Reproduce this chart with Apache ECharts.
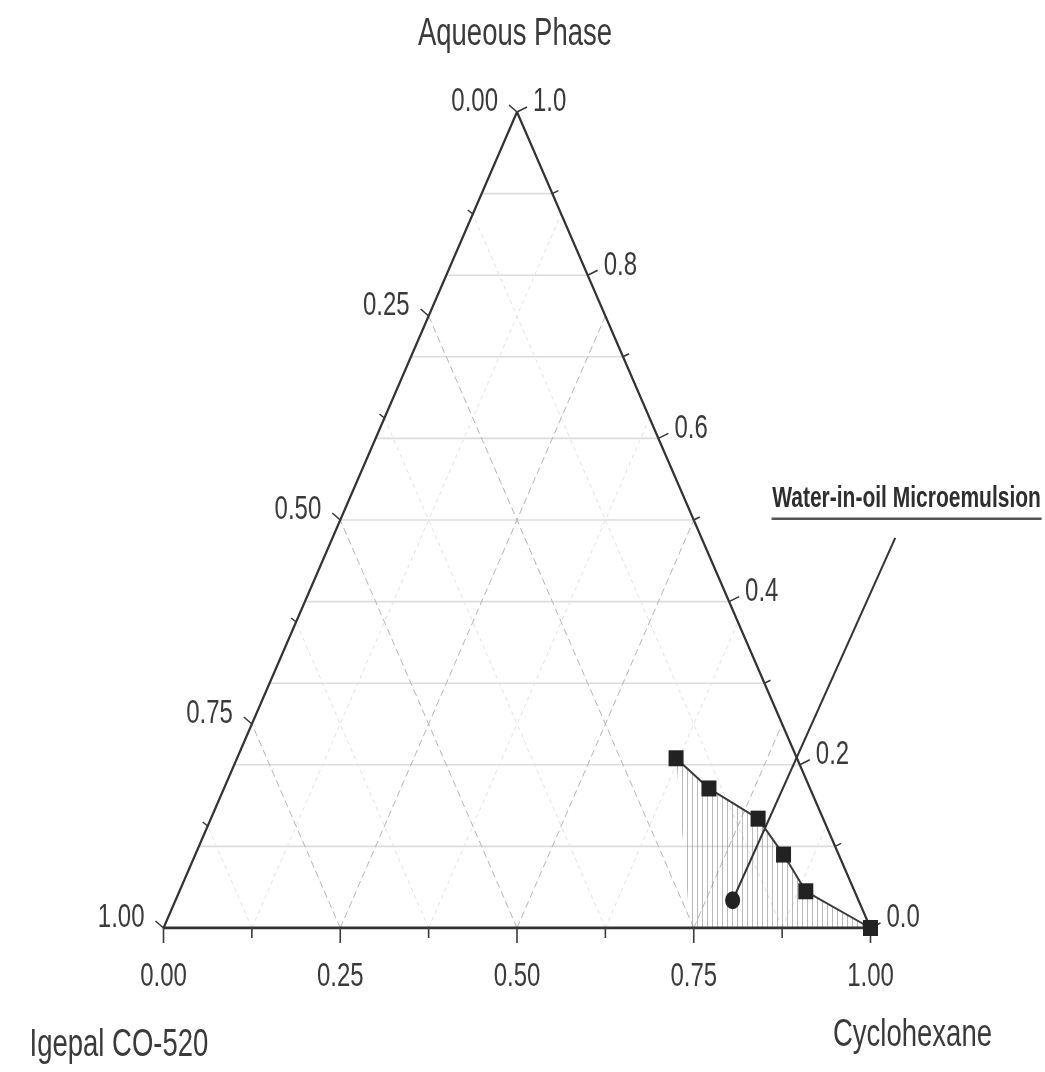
<!DOCTYPE html>
<html><head><meta charset="utf-8">
<script src="https://cdn.jsdelivr.net/npm/echarts@6/dist/echarts.min.js"></script>
<style>html,body{margin:0;padding:0;background:#fff}#c{width:1045px;height:1072px}</style>
</head><body><div id="c"></div>
<script>
// ---------- data ----------
const titleTop = 'Aqueous Phase';
const titleLeft = 'Igepal CO-520';
const titleRight = 'Cyclohexane';
const annotText = 'Water-in-oil Microemulsion';

// bottom axis: Cyclohexane fraction; left axis: Igepal fraction; right axis: Aqueous fraction
const cycTicks = [0, 0.25, 0.5, 0.75, 1.0];
const cycTickLabels = ['0.00', '0.25', '0.50', '0.75', '1.00'];
const cycMinor = [0.125, 0.375, 0.625, 0.875];
const igTicks = [0, 0.25, 0.5, 0.75, 1.0];
const igTickLabels = ['0.00', '0.25', '0.50', '0.75', '1.00'];
const igMinor = [0.125, 0.375, 0.625, 0.875];
const aqTicks = [0, 0.2, 0.4, 0.6, 0.8, 1.0];
const aqTickLabels = ['0.0', '0.2', '0.4', '0.6', '0.8', '1.0'];
const aqMinor = [0.1, 0.3, 0.5, 0.7, 0.9];
const aqGrid = [0.1, 0.2, 0.3, 0.4, 0.5, 0.6, 0.7, 0.8, 0.9];

// boundary of the water-in-oil microemulsion region (squares)
const boundaryAqueous = [0.208, 0.171, 0.134, 0.090, 0.045, 0.0];
const boundaryCyclohexane = [0.621, 0.686, 0.774, 0.832, 0.886, 1.0];
const boundaryIgepal = [0.171, 0.143, 0.092, 0.078, 0.069, 0.0];
// lower-left corner of the shaded region on the base
const regionBaseAqueous = [0.0];
const regionBaseCyclohexane = [0.745];
// highlighted composition (circle)
const pointAqueous = [0.034];
const pointCyclohexane = [0.788];
const pointIgepal = [0.178];

// ---------- helpers ----------
const tern = (aq, cyc) => [cyc + aq / 2, aq];
const S = 1.42; // vertical stretch of the text
const FONT = '"Liberation Sans", Arial, sans-serif';
const TXT = '#3a3a3a';

function text(x, y, str, size, align, weight, fill) {
  return { type: 'text', x: x, y: y, scaleY: S,
    style: { text: str, fill: fill || TXT, fontSize: size, fontFamily: FONT, fontWeight: weight || 'normal',
             align: align, verticalAlign: 'middle' } };
}
function seg(p, q, style) {
  return { type: 'line', shape: { x1: p[0], y1: p[1], x2: q[0], y2: q[1] }, style: style };
}
function customSeries(values, render, z) {
  return { type: 'custom', coordinateSystem: 'cartesian2d', clip: false, silent: true, z: z || 2,
    data: values.map(v => [v, 0]),
    renderItem: function (params, api) { return render(api.value(0), params.dataIndex, api); } };
}

const hatch = document.createElement('canvas');
hatch.width = 5; hatch.height = 8;
(function () { const g = hatch.getContext('2d'); g.fillStyle = 'rgba(140,140,140,0.6)'; g.fillRect(2, 0, 1, 8); })();

const gridStyle = { stroke: '#dcdcdc', lineWidth: 1.6 };
const dashStyle = { stroke: '#b5b5b5', lineWidth: 1, lineDash: [7, 4] };
const faintStyle = { stroke: '#e2e2e2', lineWidth: 1, lineDash: [4, 4] };
const tickStyle = { stroke: '#3a3a3a', lineWidth: 1.6 };

const series = [];
// horizontal grid lines (constant aqueous)
series.push(customSeries(aqGrid, (a, i, api) => seg(api.coord(tern(a, 0)), api.coord(tern(a, 1 - a)), gridStyle), 1));
// dashed lines at major cyclohexane / igepal values
series.push(customSeries(cycTicks.slice(1, -1), (c, i, api) => ({ type: 'group', children: [
  seg(api.coord(tern(0, c)), api.coord(tern(1 - c, c)), dashStyle),
  seg(api.coord(tern(0, 1 - c)), api.coord(tern(1 - c, 0)), dashStyle) ] }), 1));
series.push(customSeries(cycMinor, (c, i, api) => ({ type: 'group', children: [
  seg(api.coord(tern(0, c)), api.coord(tern(1 - c, c)), faintStyle),
  seg(api.coord(tern(0, 1 - c)), api.coord(tern(1 - c, 0)), faintStyle) ] }), 1));

// shaded region
const regionPts = boundaryAqueous.map((a, i) => tern(a, boundaryCyclohexane[i]))
  .concat(regionBaseAqueous.map((a, i) => tern(a, regionBaseCyclohexane[i])));
series.push({ type: 'custom', coordinateSystem: 'cartesian2d', clip: false, silent: true, z: 2,
  data: [[0, 0]],
  renderItem: function (params, api) {
    return { type: 'polygon', shape: { points: regionPts.map(p => api.coord(p)) },
      style: { fill: { image: hatch, repeat: 'repeat' }, stroke: null } };
  } });

// triangle edges
series.push({ type: 'line', silent: true, z: 3, symbol: 'none', animation: false,
  lineStyle: { color: '#333', width: 2.2 },
  data: [tern(0, 0), tern(1, 0), tern(0, 1)] });
series.push({ type: 'line', silent: true, z: 3, symbol: 'none', animation: false,
  lineStyle: { color: '#333', width: 3 },
  data: [tern(0, 0), tern(0, 1)] });

// bottom ticks + labels (cyclohexane)
series.push(customSeries(cycTicks, (c, i, api) => { const p = api.coord(tern(0, c));
  return { type: 'group', children: [ seg(p, [p[0], p[1] + 15], tickStyle),
    text(p[0], p[1] + 49, cycTickLabels[i], 24, 'center') ] }; }, 4));
series.push(customSeries(cycMinor, (c, i, api) => { const p = api.coord(tern(0, c));
  return seg(p, [p[0], p[1] + 10], tickStyle); }, 4));
// left ticks + labels (igepal)
series.push(customSeries(igTicks, (g, i, api) => { const p = api.coord(tern(1 - g, 0));
  return { type: 'group', children: [ seg(p, [p[0] - 8, p[1] - 7], tickStyle),
    text(p[0] - 19, p[1] - 10, igTickLabels[i], 24, 'right') ] }; }, 4));
series.push(customSeries(igMinor, (g, i, api) => { const p = api.coord(tern(1 - g, 0));
  return seg(p, [p[0] - 5, p[1] - 4], tickStyle); }, 4));
// right ticks + labels (aqueous)
series.push(customSeries(aqTicks, (a, i, api) => { const p = api.coord(tern(a, 1 - a));
  return { type: 'group', children: [ seg(p, [p[0] + 10, p[1] - 5], tickStyle),
    text(p[0] + 16, p[1] - 10, aqTickLabels[i], 24, 'left') ] }; }, 4));
series.push(customSeries(aqMinor, (a, i, api) => { const p = api.coord(tern(a, 1 - a));
  return seg(p, [p[0] + 6, p[1] - 3], tickStyle); }, 4));

// axis titles
series.push({ type: 'custom', coordinateSystem: 'cartesian2d', clip: false, silent: true, z: 4,
  data: [[0, 0]],
  renderItem: function (params, api) {
    const top = api.coord(tern(1, 0)), left = api.coord(tern(0, 0)), right = api.coord(tern(0, 1));
    return { type: 'group', children: [
      text(top[0] - 2, top[1] - 78, titleTop, 27.5, 'center'),
      text(left[0] - 134, left[1] + 117, titleLeft, 27.5, 'left'),
      text(right[0] + 42, right[1] + 107, titleRight, 27.5, 'center') ] };
  } });

// annotation line + label
const annotAnchor = [1.035, 0.478];
const annotLabelPos = [1.051, 0.526];
series.push({ type: 'custom', coordinateSystem: 'cartesian2d', clip: false, silent: true, z: 5,
  data: [[0, 0]],
  renderItem: function (params, api) {
    const a = api.coord(annotAnchor), pt = api.coord(tern(pointAqueous[0], pointCyclohexane[0]));
    const l = api.coord(annotLabelPos);
    return { type: 'group', children: [
      seg(a, pt, { stroke: '#333', lineWidth: 2 }),
      text(l[0], l[1], annotText, 21, 'center', 'bold', '#2e2e2e'),
      seg([l[0] - 135, l[1] + 20], [l[0] + 135, l[1] + 20], { stroke: '#555', lineWidth: 2.4 }) ] };
  } });

// boundary line with squares
series.push({ type: 'line', silent: true, z: 6, animation: false,
  symbol: 'rect', symbolSize: [15, 16],
  itemStyle: { color: '#222', opacity: 1 }, lineStyle: { color: '#3a3a3a', width: 2 },
  data: boundaryAqueous.map((a, i) => tern(a, boundaryCyclohexane[i])) });
// circle point
series.push({ type: 'scatter', silent: true, z: 7, animation: false,
  symbol: 'circle', symbolSize: [15, 18], itemStyle: { color: '#222', opacity: 1 },
  data: pointAqueous.map((a, i) => tern(a, pointCyclohexane[i])) });

const chart = echarts.init(document.getElementById('c'), null, { renderer: 'canvas' });
chart.setOption({
  animation: false,
  backgroundColor: '#fff',
  grid: { left: 163.5, right: 174.5, top: 112, bottom: 144, show: false },
  xAxis: { type: 'value', min: 0, max: 1, show: false },
  yAxis: { type: 'value', min: 0, max: 1, show: false },
  series: series
});
</script></body></html>
